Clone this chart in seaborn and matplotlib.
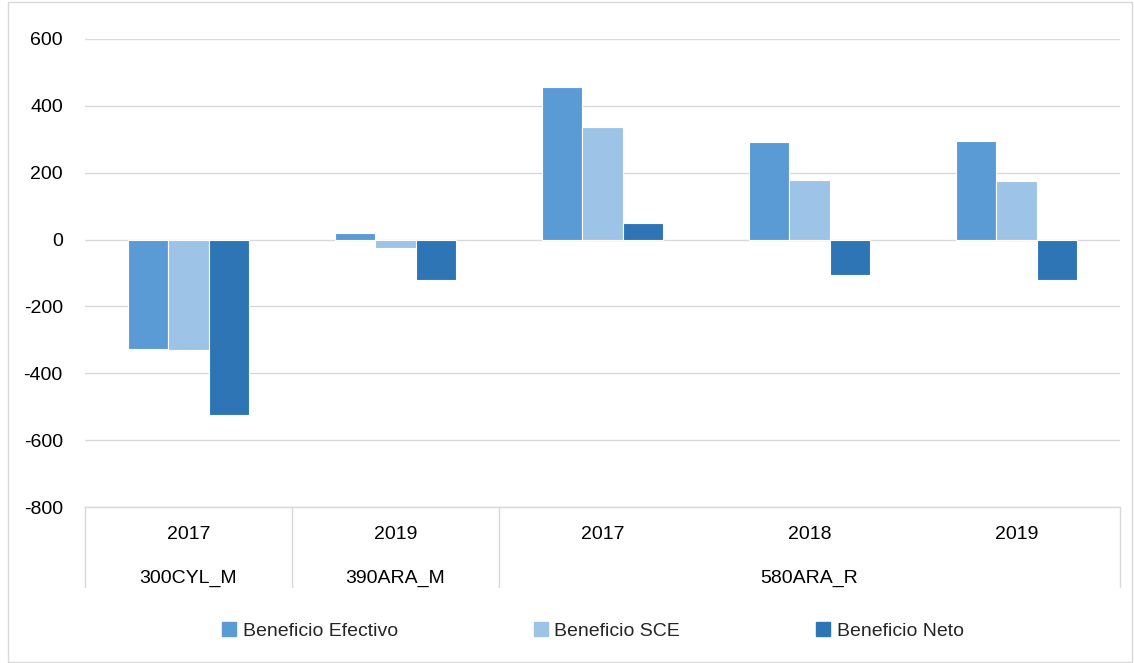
import matplotlib
matplotlib.use("Agg")
import matplotlib.pyplot as plt
import matplotlib.transforms as mtransforms
from matplotlib.patches import Rectangle
import seaborn as sns
import pandas as pd

groups = ["300CYL_M", "390ARA_M", "580ARA_R", "580ARA_R", "580ARA_R"]
years = ["2017", "2019", "2017", "2018", "2019"]
series = ["Beneficio Efectivo", "Beneficio SCE", "Beneficio Neto"]
efectivo = [-327, 20, 456, 291, 296]
sce = [-331, -26, 337, 177, 174]
neto = [-526, -120, 49, -107, -121]
colors = ["#5B9BD5", "#9DC3E6", "#2E75B6"]

cats = [f"{g} {y}" for g, y in zip(groups, years)]
rows = []
for name, vals in zip(series, [efectivo, sce, neto]):
    for c, v in zip(cats, vals):
        rows.append({"cat": c, "serie": name, "value": v})
df = pd.DataFrame(rows)

sns.set_theme(style="white")
plt.rcParams["font.family"] = ["Liberation Sans", "DejaVu Sans"]
plt.rcParams["axes.unicode_minus"] = False

FS = 14

fig = plt.figure(figsize=(11.34, 6.63), dpi=100)
ax = fig.add_axes([85/1134, 1-507/663, (1120-85)/1134, (507-39)/663])

sns.barplot(data=df, x="cat", y="value", hue="serie", order=cats,
            hue_order=series, palette=colors, saturation=1, width=0.58,
            edgecolor="white", linewidth=0.8, ax=ax, legend=True)

ax.set_ylim(-800, 600)
ax.set_xlim(-0.5, len(cats) - 0.5)
ax.set_yticks(range(-800, 601, 200))
ax.tick_params(axis="y", labelsize=FS, colors="black", length=0, pad=16)
ax.yaxis.grid(True, color="#D9D9D9", linewidth=1)
ax.set_axisbelow(True)
for s in ["top", "right", "left"]:
    ax.spines[s].set_visible(False)
ax.spines["bottom"].set_color("#D9D9D9")
ax.spines["bottom"].set_linewidth(1)
ax.set_xlabel("")
ax.set_ylabel("")
ax.set_xticks(range(len(cats)))
ax.set_xticklabels(years, fontsize=FS, color="black")
ax.tick_params(axis="x", length=0, pad=14)

trans = mtransforms.blended_transform_factory(ax.transData, ax.transAxes)
for xs in [-0.5, 0.5, 1.5, 4.5]:
    ax.plot([xs, xs], [0, -0.171], transform=trans, color="#D9D9D9",
            linewidth=1, clip_on=False)
group_spans = {}
for i, g in enumerate(groups):
    group_spans.setdefault(g, []).append(i)
for g, idx in group_spans.items():
    xc = (min(idx) + max(idx)) / 2
    ax.text(xc, -0.153, g, transform=trans, ha="center", va="center",
            fontsize=FS, color="black")

ax.get_legend().remove()
handles = [Rectangle((0, 0), 1, 1, color=c) for c in colors]
fig.legend(handles, series, loc="center", bbox_to_anchor=(0.523, 1-631/663),
           ncol=3, frameon=False, fontsize=FS, handlelength=0.7,
           handleheight=0.7, handletextpad=0.35, columnspacing=7.0)

fig.patches.append(Rectangle((8/1134, 0.002), 1-10/1134, 0.995,
                             transform=fig.transFigure, fill=False,
                             edgecolor="#D9D9D9", linewidth=1))

fig.savefig("out.png", dpi=100)
